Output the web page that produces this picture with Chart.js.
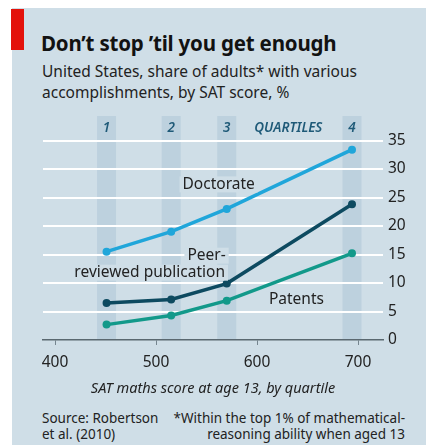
<!DOCTYPE html>
<html>
<head>
<meta charset="utf-8">
<script src="https://cdn.jsdelivr.net/npm/chart.js@4"></script>
<style>
  html, body { margin: 0; padding: 0; background: #fff; }
  body { width: 426px; height: 445px; position: relative; overflow: hidden; font-family: "Noto Sans", sans-serif; }
  #panel { position: absolute; left: 12px; top: 8px; width: 414px; height: 437px; background: #cfdee7; }
  #bar { position: absolute; left: 11px; top: 9px; width: 13px; height: 41px; background: #e3120b; }
  #title { position: absolute; left: 41px; top: 31px; margin: 0; font-size: 20.5px; line-height: 24px; font-weight: 700; color: #121212; white-space: nowrap; letter-spacing: -0.2px; }
  #subtitle { position: absolute; left: 42px; top: 61px; font-size: 15.5px; line-height: 21px; color: #222; white-space: nowrap; }
  #source { position: absolute; left: 42px; top: 410px; font-size: 13.5px; line-height: 16px; color: #222; white-space: nowrap; }
  #note { position: absolute; right: 21px; top: 410px; font-size: 13.5px; line-height: 16px; color: #222; text-align: right; white-space: nowrap; }
  #wrap { position: absolute; left: 0; top: 100px; width: 426px; height: 300px; }
</style>
</head>
<body>
<div id="panel"></div>
<div id="bar"></div>
<h1 id="title">Don’t stop ’til you get enough</h1>
<div id="subtitle">United States, share of adults* with various<br>accomplishments, by SAT score, %</div>
<div id="wrap"><canvas id="chart" width="426" height="300"></canvas></div>
<div id="source">Source: Robertson<br>et al. (2010)</div>
<div id="note">*Within the top 1% of mathematical-<br>reasoning ability when aged 13</div>

<script>
// Data
const quartileLabels = ['1', '2', '3', '4'];
const quartileScores = [451, 515, 570, 694];   // SAT score at each quartile point
const doctorate = [15.5, 19.0, 23.0, 33.4];
const peerReviewed = [6.5, 7.1, 9.9, 23.8];
const patents = [2.7, 4.3, 6.9, 15.2];
const xTicks = [400, 500, 600, 700];
const yTicks = [0, 5, 10, 15, 20, 25, 30, 35];

// Layout / style (not data)
const FONT = '"Noto Sans"';
const colors = { doctorate: '#20a6da', peer: '#0d4a60', patents: '#12998a', band: '#bdd1de', bg: '#cfdee7', quart: '#1f5a78', text: '#222' };
const seriesLabels = [
    { lines: ['Doctorate'], x: 562, y: 27.3 },
    { lines: ['Peer-', 'reviewed publication'], x: 550, y: 13.3, align: ['center', 'right'], rightX: 225 },
    { lines: ['Patents'], x: 639, y: 7.1 }
];

function toPoints(values) {
    return values.map(function(v, i) { return { x: quartileScores[i], y: v }; });
}

// Quartile bands and their numbers, behind the grid
const bandsPlugin = {
    id: 'bands',
    beforeDraw: function(chart) {
        const ctx = chart.ctx;
        const area = chart.chartArea;
        const xs = chart.scales.x;
        ctx.save();
        ctx.fillStyle = colors.band;
        quartileScores.forEach(function(s) {
            const px = xs.getPixelForValue(s);
            ctx.fillRect(px - 9.5, area.top, 19, area.bottom - area.top);
        });
        ctx.fillStyle = colors.quart;
        ctx.font = 'italic 600 13.5px ' + FONT;
        ctx.textAlign = 'center';
        ctx.textBaseline = 'middle';
        quartileScores.forEach(function(s, i) {
            ctx.fillText(quartileLabels[i], xs.getPixelForValue(s), area.top + 12);
        });
        ctx.fillText('QUARTILES', xs.getPixelForValue(631), area.top + 12);
        ctx.restore();
    }
};

// Series name labels with knock-out background
const seriesLabelPlugin = {
    id: 'seriesLabels',
    afterDatasetsDraw: function(chart) {
        const ctx = chart.ctx;
        const xs = chart.scales.x;
        const ys = chart.scales.y;
        ctx.save();
        ctx.font = '15.5px ' + FONT;
        ctx.textBaseline = 'middle';
        ctx.textAlign = 'center';
        seriesLabels.forEach(function(lab) {
            const cx = xs.getPixelForValue(lab.x);
            const cy = ys.getPixelForValue(lab.y);
            const lh = 17;
            const top = cy - (lab.lines.length - 1) * lh / 2;
            lab.lines.forEach(function(t, i) {
                const w = ctx.measureText(t).width;
                let lx = cx;
                if (lab.align && lab.align[i] === 'right') {
                    lx = lab.rightX - w / 2;
                }
                ctx.fillStyle = colors.bg;
                ctx.fillRect(lx - w / 2 - 3, top + i * lh - 8, w + 6, 16);
                ctx.fillStyle = colors.text;
                ctx.fillText(t, lx, top + i * lh);
            });
        });
        ctx.restore();
    }
};

Chart.defaults.font.family = FONT;
Chart.defaults.color = colors.text;

function lineSet(label, values, color) {
    return {
        label: label,
        data: toPoints(values),
        borderColor: color,
        backgroundColor: color,
        borderWidth: 3.5,
        pointRadius: 4,
        pointHoverRadius: 4,
        pointBorderWidth: 0,
        tension: 0
    };
}

new Chart(document.getElementById('chart'), {
    type: 'line',
    data: {
        datasets: [
            lineSet('Patents', patents, colors.patents),
            lineSet('Peer-reviewed publication', peerReviewed, colors.peer),
            lineSet('Doctorate', doctorate, colors.doctorate)
        ]
    },
    options: {
        responsive: false,
        animation: false,
        events: [],
        layout: { padding: { left: 43, top: 16, right: 0, bottom: 0 } },
        plugins: { legend: { display: false }, tooltip: { enabled: false } },
        scales: {
            x: {
                type: 'linear',
                min: 388.1,
                max: 724.7,
                afterBuildTicks: function(scale) {
                    scale.ticks = xTicks.map(function(v) { return { value: v }; });
                },
                afterFit: function(scale) { scale.height = 60; },
                grid: { drawOnChartArea: false, drawTicks: true, tickLength: 5, color: '#75858f', lineWidth: 1 },
                border: { display: true, color: '#5a6870', width: 1.5 },
                ticks: { padding: 8, font: { size: 15.5 }, color: '#222' },
                title: {
                    display: true,
                    text: 'SAT maths score at age 13, by quartile',
                    font: { size: 14.5, style: 'italic' },
                    color: '#222',
                    padding: { top: 0, bottom: 2 }
                }
            },
            y: {
                type: 'linear',
                position: 'right',
                min: 0,
                max: 39.3,
                afterBuildTicks: function(scale) {
                    scale.ticks = yTicks.map(function(v) { return { value: v }; });
                },
                afterFit: function(scale) { scale.width = 43; },
                grid: {
                    drawTicks: false,
                    lineWidth: 2,
                    color: function(c) { return c.tick && c.tick.value === 0 ? 'rgba(0,0,0,0)' : '#ffffff'; }
                },
                border: { display: false },
                ticks: { padding: 5, font: { size: 15.5 }, color: '#222' }
            }
        }
    },
    plugins: [bandsPlugin, seriesLabelPlugin]
});
</script>
</body>
</html>
